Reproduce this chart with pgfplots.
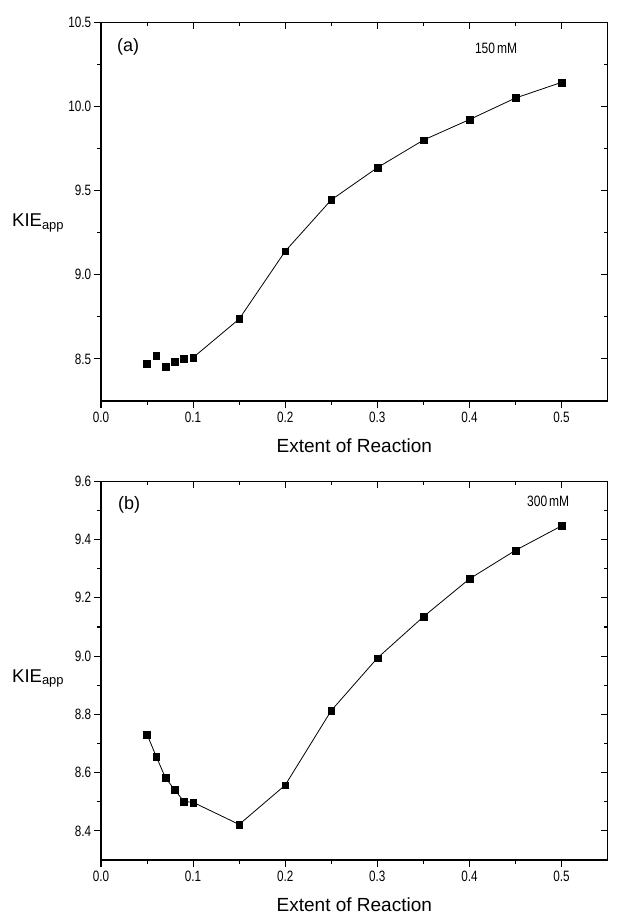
\documentclass[border=0pt]{standalone}
\usepackage{fontspec}
\setmainfont{Liberation Sans}
\usepackage{pgfplots}
\pgfplotsset{compat=1.18}
\pgfplotsset{
  base/.style={
    width=506.6pt, height=378.7pt, scale only axis,
    xmin=0, xmax=0.55, xtick={0,0.1,0.2,0.3,0.4,0.5},
    minor x tick num=1, minor y tick num=1,
    axis line style={line width=1.2pt},
    every tick/.style={black, line width=1.1pt},
    major tick length=7pt, minor tick length=4pt,
    scaled ticks=false, clip mode=individual,
    /pgf/number format/assume math mode=true,
    /pgf/number format/fixed, /pgf/number format/fixed zerofill,
    /pgf/number format/precision=1,
    tick label style={font=\fontsize{15}{15}\selectfont, xscale=0.78},
  },
  main/.style={base, xtick pos=left, ytick pos=left, tick align=outside,
    xlabel={Extent of Reaction},
    xlabel style={font=\fontsize{19}{19}\selectfont, at={(axis description cs:0.5,0)}, anchor=base, yshift=-52pt},
  },
  over/.style={base, xtick pos=right, ytick pos=right, tick align=inside,
    xticklabel=\empty, yticklabel=\empty},
  pts/.style={black, line width=0.8pt, mark=square*, mark size=3.4pt,
    mark options={solid, fill=black, line width=0.4pt}},
}
\begin{document}
\begin{tikzpicture}
\path[use as bounding box] (0,0) rectangle (626pt,915pt);
% ---------- (a) ----------
\begin{axis}[main, at={(101pt,514pt)}, anchor=south west,
  ymin=8.25, ymax=10.5, ytick={8.5,9.0,9.5,10.0,10.5}]
\addplot[pts, only marks] coordinates {
 (0.05,8.471) (0.06,8.52) (0.07,8.455) (0.08,8.483) (0.09,8.500)};
\addplot[pts] coordinates {
 (0.10,8.508) (0.15,8.737) (0.20,9.140) (0.25,9.445) (0.30,9.636)
 (0.35,9.800) (0.40,9.922) (0.45,10.050) (0.50,10.143)};
\node[anchor=west, inner sep=0pt, font=\fontsize{18}{18}\selectfont] at (axis description cs:0.0316,0.935) {(a)};
\node[anchor=west, inner sep=0pt, font=\fontsize{15}{15}\selectfont, xscale=0.8] at (axis description cs:0.738,0.932) {150\,mM};
\node[anchor=base west, inner sep=0pt, font=\fontsize{18.5}{18.5}\selectfont] at (axis description cs:-0.1757,0.4595) {KIE\textsubscript{app}};
\end{axis}
\begin{axis}[over, at={(101pt,514pt)}, anchor=south west,
  ymin=8.25, ymax=10.5, ytick={8.5,9.0,9.5,10.0,10.5}]
\addplot[draw=none] coordinates {(0.2,9)};
\end{axis}
% ---------- (b) ----------
\begin{axis}[main, at={(101pt,55pt)}, anchor=south west,
  ymin=8.3, ymax=9.6, ytick={8.4,8.6,8.8,9.0,9.2,9.4,9.6}]
\addplot[pts] coordinates {
 (0.05,8.731) (0.06,8.655) (0.07,8.582) (0.08,8.541) (0.09,8.501)
 (0.10,8.498) (0.15,8.422) (0.20,8.557) (0.25,8.813) (0.30,8.993)
 (0.35,9.135) (0.40,9.265) (0.45,9.363) (0.50,9.447)};
\node[anchor=west, inner sep=0pt, font=\fontsize{18}{18}\selectfont] at (axis description cs:0.0336,0.9374) {(b)};
\node[anchor=west, inner sep=0pt, font=\fontsize{15}{15}\selectfont, xscale=0.8] at (axis description cs:0.841,0.948) {300\,mM};
\node[anchor=base west, inner sep=0pt, font=\fontsize{18.5}{18.5}\selectfont] at (axis description cs:-0.1757,0.470) {KIE\textsubscript{app}};
\end{axis}
\begin{axis}[over, at={(101pt,55pt)}, anchor=south west,
  ymin=8.3, ymax=9.6, ytick={8.4,8.6,8.8,9.0,9.2,9.4,9.6}]
\addplot[draw=none] coordinates {(0.2,9)};
\end{axis}
\end{tikzpicture}
\end{document}
